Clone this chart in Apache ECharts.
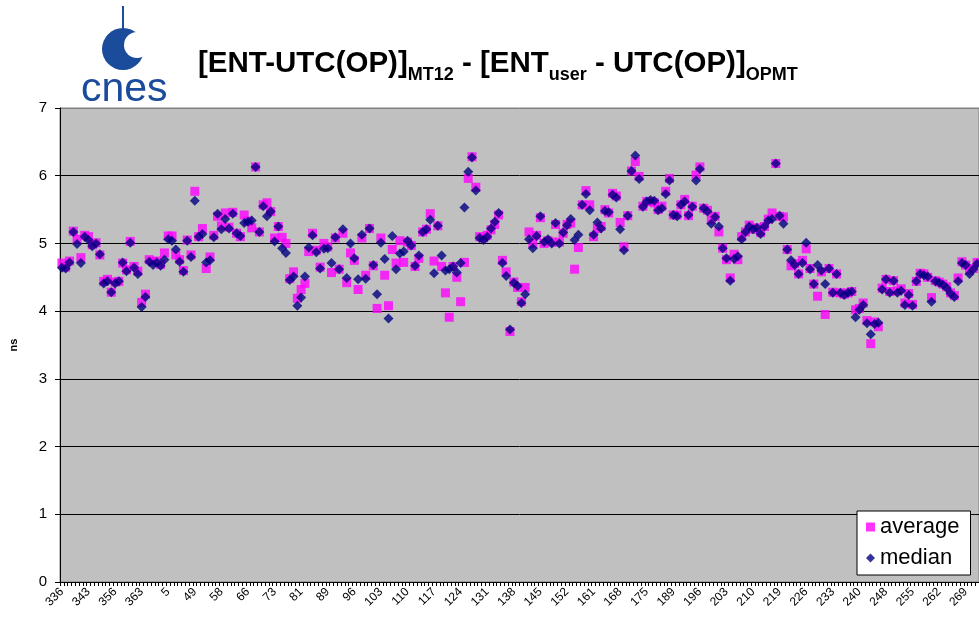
<!DOCTYPE html>
<html>
<head>
<meta charset="utf-8">
<script src="https://cdn.jsdelivr.net/npm/echarts@6/dist/echarts.min.js"></script>
<style>
html,body{margin:0;padding:0;background:#fff;}
#chart{width:979px;height:622px;}
</style>
</head>
<body>
<div id="chart"></div>
<script>
// Day-of-year categories (every 7th labelled)
const categories = [336,337,338,339,340,341,342, 343,344,345,346,347,348,349, 356,357,358,359,360,361,362,
 363,364,365,1,2,3,4, 5,6,7,8,9,10,11, 49,50,51,52,53,54,55, 58,59,60,61,62,63,64,
 66,67,68,69,70,71,72, 73,74,75,76,77,78,79, 81,82,83,84,85,86,87, 89,90,91,92,93,94,95,
 96,97,98,99,100,101,102, 103,104,105,106,107,108,109, 110,111,112,113,114,115,116,
 117,118,119,120,121,122,123, 124,125,126,127,128,129,130, 131,132,133,134,135,136,137,
 138,139,140,141,142,143,144, 145,146,147,148,149,150,151, 152,153,154,155,156,157,158,
 161,162,163,164,165,166,167, 168,169,170,171,172,173,174, 175,176,177,178,179,180,181,
 189,190,191,192,193,194,195, 196,197,198,199,200,201,202, 203,204,205,206,207,208,209,
 210,211,212,213,214,215,216, 219,220,221,222,223,224,225, 226,227,228,229,230,231,232,
 233,234,235,236,237,238,239, 240,241,242,243,244,245,246, 248,249,250,251,252,253,254,
 255,256,257,258,259,260,261, 262,263,264,265,266,267,268, 269,270,271,272];

const median = [
 4.64,4.63,4.72,5.17,4.99,4.71,5.10,5.05,4.96,5.00,
 4.84,4.41,4.44,4.28,4.41,4.44,4.72,4.59,5.01,4.64,
 4.55,4.06,4.21,4.73,4.68,4.72,4.67,4.76,5.06,5.04,
 4.91,4.73,4.58,5.04,4.80,5.63,5.10,5.14,4.72,4.75,
 5.09,5.44,5.21,5.36,5.22,5.44,5.15,5.11,5.30,5.32,
 5.34,6.13,5.17,5.55,5.40,5.47,5.03,5.25,4.93,4.86,
 4.46,4.51,4.08,4.20,4.51,4.94,5.12,4.87,4.63,4.92,
 4.93,4.71,5.09,4.62,5.21,4.49,5.00,4.78,4.47,5.13,
 4.48,5.22,4.68,4.25,5.01,4.77,3.89,5.11,4.62,4.85,
 4.88,5.04,4.97,4.67,4.82,5.17,5.21,5.35,4.56,5.26,
 4.82,4.60,4.62,4.66,4.57,4.71,5.53,6.06,6.27,5.78,
 5.08,5.05,5.10,5.22,5.32,5.45,4.71,4.52,3.73,4.42,
 4.37,4.12,4.25,5.06,4.93,5.11,5.40,5.02,5.06,5.00,
 5.30,5.00,5.16,5.27,5.36,5.05,5.13,5.57,5.73,5.49,
 5.13,5.31,5.22,5.48,5.46,5.72,5.68,5.21,4.90,5.41,
 6.07,6.30,5.95,5.54,5.62,5.64,5.63,5.49,5.52,5.73,
 5.93,5.42,5.40,5.57,5.62,5.42,5.54,5.93,6.10,5.52,
 5.47,5.29,5.39,5.25,4.93,4.78,4.45,4.77,4.81,5.06,
 5.17,5.25,5.21,5.23,5.14,5.25,5.34,5.36,6.18,5.41,
 5.29,4.91,4.75,4.68,4.55,4.71,5.01,4.62,4.40,4.68,
 4.60,4.40,4.63,4.27,4.55,4.27,4.24,4.27,4.29,3.91,
 4.02,4.09,3.82,3.66,3.81,3.83,4.32,4.47,4.27,4.45,
 4.27,4.30,4.09,4.24,4.08,4.44,4.55,4.53,4.51,4.14,
 4.44,4.42,4.39,4.34,4.26,4.21,4.44,4.71,4.68,4.55,
 4.62,4.70];

const average = [
 4.71,4.65,4.74,5.18,5.06,4.79,5.12,5.10,4.98,5.01,
 4.83,4.44,4.47,4.28,4.43,4.44,4.71,4.61,5.03,4.66,
 4.59,4.13,4.25,4.76,4.73,4.74,4.69,4.86,5.11,5.11,
 4.83,4.76,4.60,5.05,4.83,5.77,5.10,5.22,4.63,4.80,
 5.12,5.40,5.26,5.45,5.24,5.46,5.15,5.10,5.42,5.33,
 5.23,6.13,5.17,5.57,5.60,5.47,5.08,5.25,5.09,5.00,
 4.48,4.58,4.19,4.32,4.41,4.88,5.15,4.90,4.65,5.00,
 4.95,4.57,5.08,4.62,5.15,4.42,4.86,4.75,4.32,5.08,
 4.53,5.22,4.67,4.04,5.08,4.53,4.08,4.91,4.71,5.04,
 4.72,5.02,4.97,4.66,4.78,5.17,5.21,5.44,4.74,5.26,
 4.66,4.27,3.91,4.66,4.50,4.14,4.72,5.96,6.28,5.83,
 5.10,5.08,5.12,5.20,5.28,5.42,4.75,4.58,3.70,4.43,
 4.35,4.14,4.35,5.17,5.00,5.12,5.38,5.00,5.04,5.02,
 5.28,5.02,5.15,5.28,5.30,4.62,4.94,5.57,5.78,5.57,
 5.10,5.22,5.25,5.50,5.45,5.74,5.70,5.31,4.95,5.41,
 6.07,6.21,5.99,5.55,5.62,5.62,5.60,5.50,5.55,5.77,
 5.96,5.42,5.42,5.57,5.65,5.41,5.55,6.01,6.13,5.52,
 5.49,5.35,5.40,5.17,4.93,4.76,4.49,4.84,4.76,5.10,
 5.17,5.27,5.21,5.23,5.16,5.25,5.36,5.45,6.18,5.40,
 5.39,4.91,4.67,4.70,4.55,4.75,4.92,4.63,4.40,4.22,
 4.58,3.95,4.63,4.28,4.55,4.27,4.25,4.27,4.29,4.02,
 4.04,4.12,3.86,3.52,3.84,3.77,4.34,4.47,4.29,4.45,
 4.30,4.33,4.12,4.26,4.10,4.44,4.56,4.55,4.50,4.20,
 4.45,4.43,4.40,4.36,4.27,4.23,4.49,4.73,4.68,4.60,
 4.63,4.72];

const yTicks = [0,1,2,3,4,5,6,7];
const seriesNames = ['average','median'];

const chart = echarts.init(document.getElementById('chart'), null, {renderer:'canvas'});
const logoBlue = '#1B4B9B';
const FONT = 'Arial, "Liberation Sans", sans-serif';
chart.setOption({
  animation: false,
  backgroundColor: '#ffffff',
  textStyle: {fontFamily: FONT},
  graphic: [
    {type:'circle', shape:{cx:123, cy:49, r:21}, style:{fill:logoBlue}, z:10},
    {type:'circle', shape:{cx:137, cy:45, r:13}, style:{fill:'#ffffff'}, z:11},
    {type:'line', shape:{x1:123, y1:6, x2:123, y2:47}, style:{stroke:logoBlue, lineWidth:2}, z:12},
    {type:'text', z:12, style:{x:81, y:90, text:'cnes', fill:logoBlue,
      font:'41px ' + FONT, textVerticalAlign:'middle'}},
    {type:'text', z:12, left:198, top:49, style:{
      text:'{m|[ENT-UTC(OP)]}{s|MT12}{m| - [ENT}{s|user}{m| - UTC(OP)]}{s|OPMT}',
      rich:{
        m:{fontFamily:FONT, fontWeight:'bold', fontSize:29.5, lineHeight:31, verticalAlign:'top', fill:'#000'},
        s:{fontFamily:FONT, fontWeight:'bold', fontSize:18, lineHeight:18, padding:[17,0,0,0], verticalAlign:'top', fill:'#000'}
      }
    }}
  ],
  grid: {left:57, top:108, bottom:40, right:-2, show:true, backgroundColor:'#C0C0C0', borderColor:'#808080', borderWidth:1, containLabel:false},
  legend: {
    orient:'vertical', left:857, top:511,
    backgroundColor:'#ffffff', borderColor:'#000', borderWidth:1,
    padding:[5,11,6,9], itemGap:9, itemWidth:9, itemHeight:9,
    textStyle:{fontSize:22, color:'#000', fontFamily:FONT},
    data:[{name:seriesNames[0], icon:'rect'},{name:seriesNames[1], icon:'diamond'}]
  },
  xAxis: {
    type:'category', data:categories, boundaryGap:true,
    axisLine:{show:true, lineStyle:{color:'#000', width:1}},
    axisTick:{show:true, interval:0, length:4, lineStyle:{color:'#000'}},
    axisLabel:{interval:6, rotate:45, fontSize:12, color:'#000', margin:8},
    splitLine:{show:false}
  },
  yAxis: {
    type:'value', min:yTicks[0], max:yTicks[yTicks.length-1], interval:1,
    name:'ns', nameLocation:'middle', nameGap:41,
    nameTextStyle:{fontSize:11, fontWeight:'bold', color:'#000'},
    axisLine:{show:true, lineStyle:{color:'#000', width:1}},
    axisTick:{show:true, length:5, lineStyle:{color:'#000'}},
    axisLabel:{fontSize:15, color:'#000', margin:13},
    splitLine:{show:true, lineStyle:{color:['#000','#000','#000','#000','#000','#000','#000','#808080'], width:1}}
  },
  series: [
    {name:seriesNames[0], type:'scatter', data:average, symbol:'rect', symbolSize:9, itemStyle:{color:'#FF00FF'}, z:2},
    {name:seriesNames[1], type:'scatter', data:median, symbol:'diamond', symbolSize:10, itemStyle:{color:'#000080'}, z:3}
  ]
});
</script>
</body>
</html>
